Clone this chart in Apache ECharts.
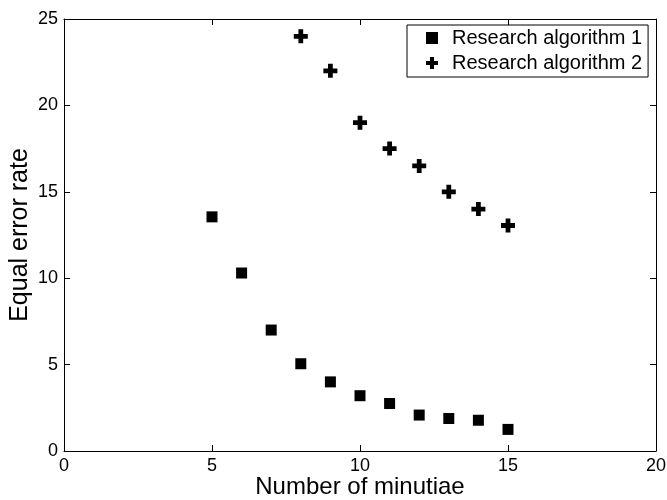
<!DOCTYPE html>
<html>
<head>
<meta charset="utf-8">
<script src="https://cdn.jsdelivr.net/npm/echarts@6/dist/echarts.min.js"></script>
<style>
html, body { margin: 0; padding: 0; background: #fff; }
#chart { width: 667px; height: 500px; }
</style>
</head>
<body>
<div id="chart"></div>
<script>
var minutiae1 = [5, 6, 7, 8, 9, 10, 11, 12, 13, 14, 15];
var eer1 = [13.55, 10.3, 7.0, 5.05, 4.0, 3.2, 2.75, 2.08, 1.88, 1.78, 1.25];
var minutiae2 = [8, 9, 10, 11, 12, 13, 14, 15];
var eer2 = [24.0, 22.0, 19.0, 17.5, 16.5, 15.0, 14.0, 13.05];

var plusPath = 'path://M3.3,0H6.7V3.3H10V6.7H6.7V10H3.3V6.7H0V3.3H3.3Z';
var fontFam = 'Liberation Sans, Arial, sans-serif';

function pairs(xs, ys) {
	var out = [];
	for (var i = 0; i < xs.length; i++) out.push([xs[i], ys[i]]);
	return out;
}

var myChart = echarts.init(document.getElementById('chart'));

var lineStyle = { color: '#000', width: 1 };

var option = {
	animation: false,
	textStyle: { fontFamily: fontFam },
	grid: { left: 64, right: 11, top: 19, bottom: 49, containLabel: false, outerBoundsMode: 'none' },
	legend: {
		left: 407, top: 25,
		orient: 'vertical',
		borderColor: '#000', borderWidth: 1,
		padding: [3, 6, 4, 19],
		itemGap: 5,
		itemWidth: 12, itemHeight: 12,
		textStyle: { fontSize: 20, color: '#000', fontFamily: fontFam, padding: [0, 0, 0, 9] },
		data: [
			{ name: 'Research algorithm 1', icon: 'rect', itemStyle: { color: '#000', opacity: 1 } },
			{ name: 'Research algorithm 2', icon: plusPath, itemStyle: { color: '#000', opacity: 1 } }
		]
	},
	xAxis: [{
		type: 'value', min: 0, max: 20, interval: 5,
		name: 'Number of minutiae', nameLocation: 'middle', nameGap: 24, nameMoveOverlap: false,
		nameTextStyle: { fontSize: 24, color: '#000', fontFamily: fontFam },
		axisLine: { show: true, onZero: false, lineStyle: lineStyle },
		axisTick: { show: true, inside: true, length: 6, lineStyle: lineStyle },
		axisLabel: { fontSize: 18, color: '#000', margin: 6 },
		splitLine: { show: false }
	}, {
		type: 'value', min: 0, max: 20, interval: 5, position: 'top',
		axisLine: { show: true, onZero: false, lineStyle: lineStyle },
		axisTick: { show: true, inside: true, length: 6, lineStyle: lineStyle },
		axisLabel: { show: false },
		splitLine: { show: false }
	}],
	yAxis: [{
		type: 'value', min: 0, max: 25, interval: 5,
		name: 'Equal error rate', nameLocation: 'middle', nameGap: 31, nameMoveOverlap: false,
		nameTextStyle: { fontSize: 25, color: '#000', fontFamily: fontFam },
		axisLine: { show: true, onZero: false, lineStyle: lineStyle },
		axisTick: { show: true, inside: true, length: 6, lineStyle: lineStyle },
		axisLabel: { fontSize: 18, color: '#000', margin: 6 },
		splitLine: { show: false }
	}, {
		type: 'value', min: 0, max: 25, interval: 5, position: 'right',
		axisLine: { show: true, onZero: false, lineStyle: lineStyle },
		axisTick: { show: true, inside: true, length: 6, lineStyle: lineStyle },
		axisLabel: { show: false },
		splitLine: { show: false }
	}],
	series: [{
		name: 'Research algorithm 1',
		type: 'scatter',
		symbol: 'rect',
		symbolSize: 11,
		itemStyle: { color: '#000', opacity: 1 },
		data: pairs(minutiae1, eer1)
	}, {
		name: 'Research algorithm 2',
		type: 'scatter',
		symbol: plusPath,
		symbolSize: 14,
		itemStyle: { color: '#000', opacity: 1 },
		data: pairs(minutiae2, eer2)
	}]
};

myChart.setOption(option);
</script>
</body>
</html>
